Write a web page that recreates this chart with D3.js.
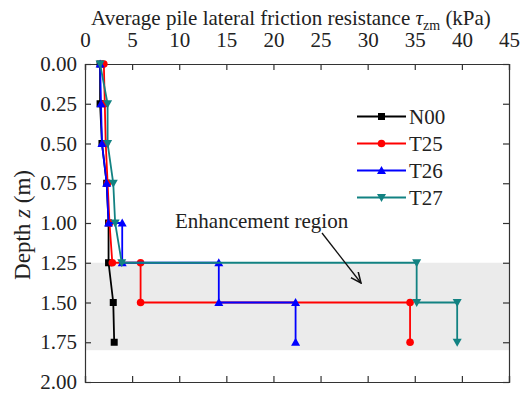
<!DOCTYPE html>
<html>
<head>
<meta charset="utf-8">
<script src="https://cdn.jsdelivr.net/npm/d3@7"></script>
<style>
  body { margin: 0; background: #fff; }
</style>
</head>
<body>
<div id="chart"></div>
<script>
// data: [friction (kPa), depth (m)]
const seriesNames = ['N00', 'T25', 'T26', 'T27'];
const seriesColors = ['#000000', '#ff0000', '#0000ff', '#128282'];
const seriesSymbols = ['square', 'circle', 'up', 'down'];

const n00 = [[1.6, 0], [1.6, 0.25], [1.8, 0.5], [2.3, 0.75], [2.5, 1.0], [2.5, 1.25], [3.0, 1.5], [3.1, 1.75]];
const t25 = [[2.0, 0], [2.1, 0.25], [2.2, 0.5], [2.4, 0.75], [2.6, 1.0], [2.9, 1.25], [5.9, 1.25], [5.9, 1.5], [34.5, 1.5], [34.5, 1.75]];
const t26 = [[1.6, 0], [1.7, 0.25], [1.8, 0.5], [2.3, 0.75], [2.5, 1.0], [3.95, 1.0], [3.95, 1.25], [14.2, 1.25], [14.2, 1.5], [22.35, 1.5], [22.35, 1.75]];
const t27 = [[1.6, 0], [2.4, 0.25], [2.4, 0.5], [3.0, 0.75], [3.2, 1.0], [3.9, 1.25], [35.2, 1.25], [35.2, 1.5], [39.5, 1.5], [39.5, 1.75]];
const allSeries = [n00, t25, t26, t27];

const xTicks = [0, 5, 10, 15, 20, 25, 30, 35, 40, 45];
const yTicks = [0, 0.25, 0.5, 0.75, 1.0, 1.25, 1.5, 1.75, 2.0];
const regionDepth = [1.25, 1.8];

const width = 528, height = 394;
const margin = { top: 64, right: 19, bottom: 12, left: 85 };
const font = '"Liberation Serif", "Times New Roman", serif';
const fs = 21;

const svg = d3.select('#chart').append('svg')
  .attr('width', width)
  .attr('height', height)
  .attr('font-family', font);

const x = d3.scaleLinear().domain([0, 45]).range([margin.left, width - margin.right]);
const y = d3.scaleLinear().domain([0, 2]).range([margin.top, height - margin.bottom]);

/* enhancement region */
svg.append('rect')
  .attr('x', x(0))
  .attr('y', y(regionDepth[0]))
  .attr('width', x(45) - x(0))
  .attr('height', y(regionDepth[1]) - y(regionDepth[0]))
  .attr('fill', '#ebebeb');

/* axes, ticks inward */
const tickLen = 6;
function styleLabels(g) {
  g.attr('font-family', font);
  g.selectAll('text').attr('font-size', fs).attr('fill', '#222');
}

svg.append('g')
  .attr('transform', `translate(0,${y(0)})`)
  .call(d3.axisTop(x).tickValues(xTicks).tickSize(-tickLen).tickPadding(17).tickFormat(d3.format('d')))
  .call(styleLabels);

svg.append('g')
  .attr('transform', `translate(0,${y(2)})`)
  .call(d3.axisBottom(x).tickValues(xTicks).tickSize(-tickLen).tickFormat(''));

svg.append('g')
  .attr('transform', `translate(${x(0)},0)`)
  .call(d3.axisLeft(y).tickValues(yTicks).tickSize(-tickLen).tickPadding(8).tickFormat(d3.format('.2f')))
  .call(styleLabels);

svg.append('g')
  .attr('transform', `translate(${x(45)},0)`)
  .call(d3.axisRight(y).tickValues(yTicks).tickSize(-tickLen).tickFormat(''));

svg.selectAll('.domain').attr('stroke', '#333').attr('stroke-width', 1.2);
svg.selectAll('.tick line').attr('stroke', '#333').attr('stroke-width', 1.2);

/* axis titles */
const xt = svg.append('text')
  .attr('x', 291)
  .attr('y', 25)
  .attr('text-anchor', 'middle')
  .attr('font-size', fs)
  .attr('fill', '#222');
xt.append('tspan').text('Average pile lateral friction resistance ');
xt.append('tspan').attr('font-style', 'italic').text('τ');
xt.append('tspan').attr('font-size', 14).attr('dy', 5).text('zm');
xt.append('tspan').attr('dy', -5).text(' (kPa)');

const yt = svg.append('text')
  .attr('transform', `translate(30,${(y(0) + y(2)) / 2 + 2}) rotate(-90)`)
  .attr('text-anchor', 'middle')
  .attr('font-size', 23)
  .attr('fill', '#222');
yt.append('tspan').text('Depth ');
yt.append('tspan').attr('font-style', 'italic').text('z');
yt.append('tspan').text(' (m)');

/* markers */
function drawMarker(g, sym, cx, cy, color) {
  if (sym === 'square') {
    g.append('rect').attr('x', cx - 3.5).attr('y', cy - 3.5).attr('width', 7).attr('height', 7).attr('fill', color);
  } else if (sym === 'circle') {
    g.append('circle').attr('cx', cx).attr('cy', cy).attr('r', 3.8).attr('fill', color);
  } else {
    const s = sym === 'up' ? 1 : -1;
    g.append('path')
      .attr('d', `M${cx},${cy - 4.5 * s} L${cx + 4.5},${cy + 3.5 * s} L${cx - 4.5},${cy + 3.5 * s} Z`)
      .attr('fill', color);
  }
}

const line = d3.line().x(d => x(d[0])).y(d => y(d[1]));

allSeries.forEach((data, i) => {
  const g = svg.append('g');
  g.append('path')
    .attr('d', line(data))
    .attr('fill', 'none')
    .attr('stroke', seriesColors[i])
    .attr('stroke-width', 1.8);
  data.forEach(d => drawMarker(g, seriesSymbols[i], x(d[0]), y(d[1]), seriesColors[i]));
});

/* legend */
const legend = svg.append('g');
seriesNames.forEach((name, i) => {
  const ly = 116.5 + i * 27;
  legend.append('line')
    .attr('x1', 357).attr('x2', 406)
    .attr('y1', ly).attr('y2', ly)
    .attr('stroke', seriesColors[i])
    .attr('stroke-width', 1.8);
  drawMarker(legend, seriesSymbols[i], 381.5, ly, seriesColors[i]);
  legend.append('text')
    .attr('x', 409)
    .attr('y', ly + 7)
    .attr('font-size', fs)
    .attr('fill', '#222')
    .text(name);
});

/* annotation */
svg.append('text')
  .attr('x', 175)
  .attr('y', 228)
  .attr('font-size', fs)
  .attr('fill', '#222')
  .text('Enhancement region');

svg.append('defs').append('marker')
  .attr('id', 'arrow')
  .attr('viewBox', '0 0 10 10')
  .attr('refX', 9).attr('refY', 5)
  .attr('markerWidth', 9).attr('markerHeight', 9)
  .attr('orient', 'auto')
  .append('path')
  .attr('d', 'M0,1 L9,5 L0,9')
  .attr('fill', 'none')
  .attr('stroke', '#111')
  .attr('stroke-width', 1.3);

svg.append('line')
  .attr('x1', 322).attr('y1', 233)
  .attr('x2', 361).attr('y2', 283)
  .attr('stroke', '#111')
  .attr('stroke-width', 1.3)
  .attr('marker-end', 'url(#arrow)');
</script>
</body>
</html>
